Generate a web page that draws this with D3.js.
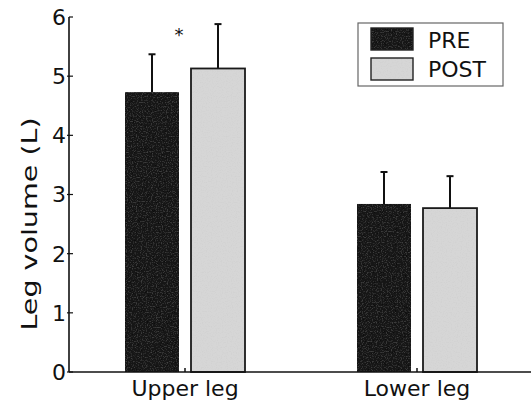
<!DOCTYPE html>
<html><head><meta charset="utf-8">
<script src="https://cdn.jsdelivr.net/npm/d3@7"></script>
<style>body{margin:0;background:#fff}svg{display:block}text{font-family:"DejaVu Sans",Verdana,sans-serif;fill:#111}</style>
</head><body><svg id="c" width="531" height="403"></svg>
<script>
const categories = ["Upper leg", "Lower leg"];
const series = ["PRE", "POST"];
const preValues = [4.73, 2.84];
const postValues = [5.13, 2.77];
const preErrors = [0.64, 0.54];
const postErrors = [0.75, 0.54];
const yTicks = [0, 1, 2, 3, 4, 5, 6];

const svg = d3.select("#c");
const defs = svg.append("defs");
function noiseFilter(id, amount, base) {
  const f = defs.append("filter").attr("id", id).attr("x", 0).attr("y", 0).attr("width", 1).attr("height", 1);
  f.append("feTurbulence").attr("type", "fractalNoise").attr("baseFrequency", 0.8).attr("numOctaves", 1).attr("seed", 5).attr("result", "n");
  f.append("feColorMatrix").attr("in", "n").attr("type", "matrix")
    .attr("values", `0 0 0 0 ${base}  0 0 0 0 ${base}  0 0 0 0 ${base}  ${amount} 0 0 0 ${-amount / 2}`).attr("result", "g");
  f.append("feComposite").attr("in", "g").attr("in2", "SourceGraphic").attr("operator", "in").attr("result", "gc");
  f.append("feMerge").call(m => { m.append("feMergeNode").attr("in", "SourceGraphic"); m.append("feMergeNode").attr("in", "gc"); });
}
noiseFilter("nDark", 0.5, 0.35);
noiseFilter("nLight", 0.9, 0.55);

const y = d3.scaleLinear().domain([0, 6]).range([372, 17]);
const x0 = d3.scaleBand().domain(categories).range([69, 533]);
const x1 = d3.scaleBand().domain(series).range([-60, 60]).paddingInner(12 / 66);

const data = categories.map((c, i) => ({
  cat: c,
  vals: [
    { s: "PRE", v: preValues[i], e: preErrors[i] },
    { s: "POST", v: postValues[i], e: postErrors[i] }
  ]
}));
const fill = { PRE: "#121212", POST: "#d6d6d6" };
const filt = { PRE: "url(#nDark)", POST: "url(#nLight)" };

const g = svg.append("g");
data.forEach(d => {
  const cx = x0(d.cat) + x0.bandwidth() / 2;
  d.vals.forEach(b => {
    const mx = cx + x1(b.s) + x1.bandwidth() / 2;
    g.append("line").attr("x1", mx).attr("x2", mx).attr("y1", y(b.v)).attr("y2", y(b.v + b.e)).attr("stroke", "#111").attr("stroke-width", 2);
    g.append("line").attr("x1", mx - 3.5).attr("x2", mx + 3.5).attr("y1", y(b.v + b.e)).attr("y2", y(b.v + b.e)).attr("stroke", "#111").attr("stroke-width", 2);
  });
  d.vals.forEach(b => {
    g.append("rect")
      .attr("x", cx + x1(b.s)).attr("width", x1.bandwidth())
      .attr("y", y(b.v)).attr("height", y(0) - y(b.v))
      .attr("fill", fill[b.s]).attr("filter", filt[b.s]);
    if (b.s === "POST") {
      g.append("rect")
        .attr("x", cx + x1(b.s)).attr("width", x1.bandwidth())
        .attr("y", y(b.v)).attr("height", y(0) - y(b.v))
        .attr("fill", "none").attr("stroke", "#1a1a1a").attr("stroke-width", 1.8);
    }
  });
  g.append("line").attr("x1", cx).attr("x2", cx).attr("y1", y(0)).attr("y2", y(0) - 4).attr("stroke", "#111").attr("stroke-width", 1.5);
});

const yAxis = svg.append("g").attr("transform", "translate(69,0)");
yAxis.append("line").attr("x1", 0).attr("x2", 0).attr("y1", y(6)).attr("y2", y(0)).attr("stroke", "#111").attr("stroke-width", 1.6);
yTicks.forEach(t => {
  yAxis.append("line").attr("x1", t === 6 ? 0 : -2).attr("x2", 4).attr("y1", y(t)).attr("y2", y(t)).attr("stroke", "#111").attr("stroke-width", 1.2);
  yAxis.append("text").attr("x", -3).attr("y", y(t)).attr("dy", "0.36em").attr("text-anchor", "end").attr("font-size", 22).text(t);
});
svg.append("line").attr("x1", 69).attr("x2", 531).attr("y1", y(0)).attr("y2", y(0)).attr("stroke", "#111").attr("stroke-width", 1.6);
categories.forEach(c => {
  svg.append("text").attr("x", x0(c) + x0.bandwidth() / 2).attr("y", 396).attr("text-anchor", "middle").attr("font-size", 22).text(c);
});
svg.append("text").attr("transform", "translate(37,224) rotate(-90) scale(1.36,1)").attr("text-anchor", "middle").attr("font-size", 21)
  .text("Leg volume (L)");

svg.append("text").attr("x", x0("Upper leg") + x0.bandwidth() / 2 - 6).attr("y", 41).attr("text-anchor", "middle").attr("font-size", 18).text("*");

const lg = svg.append("g");
lg.append("rect").attr("x", 358).attr("y", 23).attr("width", 145).attr("height", 63).attr("fill", "#fff").attr("stroke", "#666").attr("stroke-width", 1.2);
series.forEach((s, i) => {
  lg.append("rect").attr("x", 371).attr("y", 28 + i * 30).attr("width", 42).attr("height", 22)
    .attr("fill", fill[s]).attr("filter", filt[s]);
  lg.append("rect").attr("x", 371).attr("y", 28 + i * 30).attr("width", 42).attr("height", 22)
    .attr("fill", "none").attr("stroke", "#222").attr("stroke-width", 1.4);
  lg.append("text").attr("x", 428).attr("y", 48 + i * 29).attr("font-size", 22).text(s);
});
</script></body></html>
